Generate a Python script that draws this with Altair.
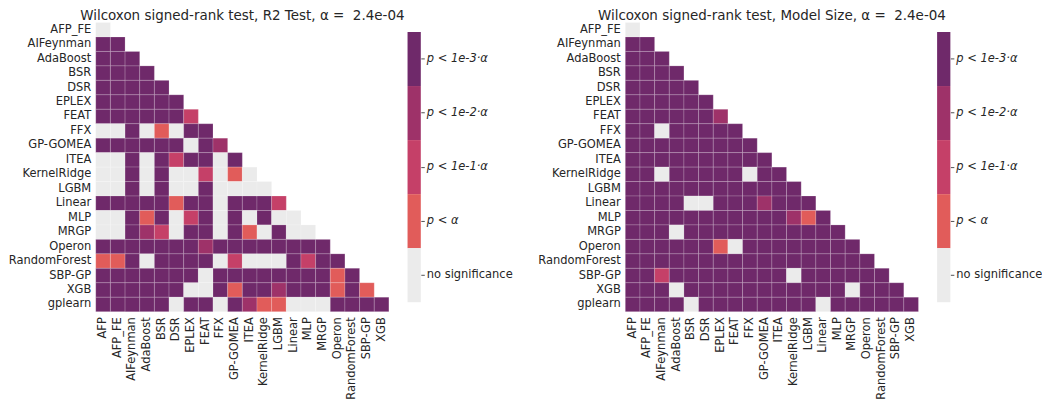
import altair as alt
import pandas as pd

FONT = "DejaVu Sans"
TXT = "#262626"

rows = ["AFP_FE", "AIFeynman", "AdaBoost", "BSR", "DSR", "EPLEX", "FEAT", "FFX",
        "GP-GOMEA", "ITEA", "KernelRidge", "LGBM", "Linear", "MLP", "MRGP",
        "Operon", "RandomForest", "SBP-GP", "XGB", "gplearn"]
cols = ["AFP", "AFP_FE", "AIFeynman", "AdaBoost", "BSR", "DSR", "EPLEX", "FEAT",
        "FFX", "GP-GOMEA", "ITEA", "KernelRidge", "LGBM", "Linear", "MLP", "MRGP",
        "Operon", "RandomForest", "SBP-GP", "XGB"]

# significance classes, from strongest to none
levels = ["p < 1e-3·α", "p < 1e-2·α", "p < 1e-1·α", "p < α", "no significance"]
level_colors = ["#6f296a", "#9e3269", "#c54068", "#e15c5a", "#ebebeb"]
# code in matrices: 4 -> p<1e-3α, 3 -> p<1e-2α, 2 -> p<1e-1α, 1 -> p<α, 0 -> none
code_to_level = {4: levels[0], 3: levels[1], 2: levels[2], 1: levels[3], 0: levels[4]}

r2_codes = [
    [0],
    [4, 4],
    [4, 4, 4],
    [4, 4, 4, 4],
    [4, 4, 4, 4, 4],
    [4, 4, 4, 4, 4, 4],
    [4, 4, 4, 4, 4, 4, 2],
    [0, 0, 4, 0, 1, 0, 4, 4],
    [4, 4, 4, 4, 4, 4, 0, 4, 3],
    [0, 0, 4, 0, 4, 2, 4, 4, 0, 4],
    [0, 0, 4, 0, 4, 0, 0, 2, 0, 1, 0],
    [0, 0, 4, 0, 4, 0, 0, 4, 0, 0, 0, 0],
    [4, 4, 4, 4, 4, 1, 4, 4, 0, 4, 4, 4, 2],
    [0, 0, 4, 1, 4, 0, 2, 4, 0, 4, 0, 4, 0, 0],
    [0, 0, 4, 3, 2, 0, 4, 4, 0, 4, 1, 0, 4, 0, 0],
    [4, 4, 4, 4, 4, 4, 4, 3, 4, 4, 4, 4, 4, 4, 4, 4],
    [1, 1, 4, 0, 4, 4, 4, 4, 0, 2, 0, 0, 0, 4, 2, 4, 4],
    [4, 4, 4, 4, 4, 4, 4, 0, 4, 4, 4, 4, 4, 4, 4, 4, 1, 4],
    [4, 4, 4, 4, 4, 4, 0, 0, 4, 1, 4, 4, 3, 4, 4, 4, 1, 4, 1],
    [4, 4, 4, 4, 4, 0, 4, 4, 0, 4, 3, 1, 1, 0, 0, 0, 4, 4, 4, 4],
]

size_codes = [
    [0],
    [4, 4],
    [4, 4, 4],
    [4, 4, 4, 4],
    [4, 4, 4, 4, 4],
    [4, 4, 4, 4, 4, 4],
    [4, 4, 4, 4, 4, 4, 3],
    [4, 4, 0, 4, 4, 4, 4, 4],
    [4, 4, 4, 4, 4, 4, 4, 4, 4],
    [4, 4, 4, 4, 4, 4, 4, 4, 4, 4],
    [4, 4, 0, 4, 4, 4, 4, 4, 0, 4, 4],
    [4, 4, 4, 4, 4, 4, 4, 4, 4, 4, 4, 4],
    [4, 4, 4, 4, 0, 0, 4, 4, 4, 3, 4, 4, 4],
    [4, 4, 4, 4, 4, 4, 4, 4, 4, 4, 4, 3, 1, 4],
    [4, 4, 4, 0, 4, 4, 4, 4, 4, 4, 4, 4, 4, 4, 4],
    [4, 4, 4, 4, 4, 4, 1, 0, 4, 4, 4, 4, 4, 4, 4, 4],
    [4, 4, 4, 4, 4, 4, 4, 4, 4, 4, 4, 4, 4, 4, 4, 4, 4],
    [4, 4, 2, 4, 4, 4, 4, 4, 4, 4, 4, 0, 4, 4, 4, 4, 4, 4],
    [4, 4, 4, 0, 4, 4, 4, 4, 4, 4, 4, 4, 4, 4, 4, 0, 4, 4, 4],
    [4, 4, 4, 4, 0, 4, 4, 4, 4, 4, 4, 4, 4, 0, 4, 4, 4, 4, 4, 4],
]

titles = [
    "Wilcoxon signed-rank test, R2 Test, α =\u00a0 2.4e-04",
    "Wilcoxon signed-rank test, Model Size, α =\u00a0 2.4e-04",
]

PLOT_W = 294
PLOT_H = 290
CBAR_W = 13.3
LABEL_SIZE = 11.5


def to_frame(codes):
    recs = []
    for i, r in enumerate(rows):
        for j, c in enumerate(codes[i]):
            recs.append({"row": r, "col": cols[j], "level": code_to_level[c]})
    return pd.DataFrame(recs)


color_scale = alt.Scale(domain=levels, range=level_colors)


def heatmap(codes, title):
    return alt.Chart(
        to_frame(codes),
        title=alt.Title(title, fontSize=13.5, font=FONT, fontWeight="normal",
                        color=TXT, frame="group", anchor="middle", offset=0),
    ).mark_rect(stroke="white", strokeWidth=0.6, strokeOpacity=0.3).encode(
        x=alt.X("col:N",
                scale=alt.Scale(domain=cols, paddingInner=0, paddingOuter=0),
                axis=alt.Axis(title=None, labelAngle=270, ticks=False, domain=False,
                              labelPadding=5, labelFontSize=LABEL_SIZE, labelFont=FONT,
                              labelColor=TXT)),
        y=alt.Y("row:N",
                scale=alt.Scale(domain=rows, paddingInner=0, paddingOuter=0),
                axis=alt.Axis(title=None, ticks=False, domain=False,
                              labelPadding=5, labelFontSize=LABEL_SIZE, labelFont=FONT,
                              labelColor=TXT)),
        color=alt.Color("level:N", scale=color_scale, legend=None),
        tooltip=["row", "col", "level"],
    ).properties(width=PLOT_W, height=PLOT_H)


def colorbar():
    return alt.Chart(pd.DataFrame({"level": levels})).mark_rect().encode(
        y=alt.Y("level:N",
                scale=alt.Scale(domain=levels, paddingInner=0, paddingOuter=0.175),
                axis=alt.Axis(orient="right", title=None, domain=False, tickSize=3.5,
                              tickColor=TXT, tickWidth=0.8, labelPadding=2,
                              labelFontSize=LABEL_SIZE, labelFont=FONT, labelColor=TXT,
                              labelFontStyle={"condition": {"test": "datum.value === 'no significance'",
                                                            "value": "normal"},
                                              "value": "italic"})),
        color=alt.Color("level:N", scale=color_scale, legend=None),
    ).properties(width=CBAR_W, height=PLOT_H)


spacer = alt.Chart(pd.DataFrame({"s": [0]})).mark_point(opacity=0).encode(
    x=alt.value(0), y=alt.value(0)
).properties(width=167, height=PLOT_H)

chart = alt.hconcat(
    heatmap(r2_codes, titles[0]), colorbar(), spacer,
    heatmap(size_codes, titles[1]), colorbar(),
    spacing=18.7, bounds="flush",
).resolve_scale(x="independent", y="independent").properties(
    padding={"left": 0, "top": 0, "right": 0, "bottom": 0}
).configure(font=FONT).configure_view(strokeWidth=0, stroke="transparent")

chart.save("out.html", embed_options={"renderer": "svg", "actions": False})
